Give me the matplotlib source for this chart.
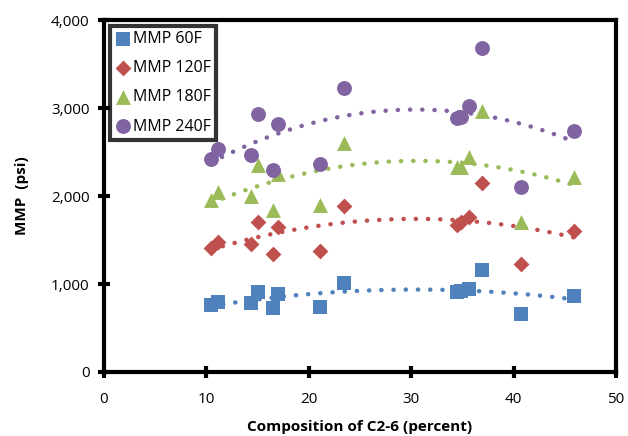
import numpy as np
import matplotlib
matplotlib.use("Agg")
import matplotlib.pyplot as plt
from matplotlib.ticker import FuncFormatter

plt.rcParams['font.family'] = ['Open Sans', 'DejaVu Sans']

comp = [10.45, 11.1, 14.35, 15.0, 16.5, 17.0, 21.1, 23.4, 34.5, 34.9, 35.6, 36.9, 40.7, 45.9]
mmp_60 = [761, 795, 784, 909, 727, 886, 739, 1011, 909, 920, 943, 1159, 659, 864]
mmp_120 = [1409, 1477, 1455, 1705, 1341, 1648, 1375, 1886, 1670, 1705, 1761, 2148, 1227, 1602]
mmp_180 = [1955, 2045, 2000, 2352, 1841, 2250, 1898, 2602, 2330, 2330, 2443, 2966, 1705, 2216]
mmp_240 = [2420, 2534, 2466, 2932, 2295, 2818, 2364, 3227, 2886, 2898, 3023, 3682, 2102, 2739]

series = [
    ("MMP 60F", mmp_60, "s", "#4F81BD", 100),
    ("MMP 120F", mmp_120, "D", "#C0504D", 65),
    ("MMP 180F", mmp_180, "^", "#9BBB59", 115),
    ("MMP 240F", mmp_240, "o", "#8064A2", 115),
]

fig = plt.figure(figsize=(6.28, 4.36), dpi=100)
ax = fig.add_axes([0.1656, 0.1468, 0.8154, 0.8072])

x = np.array(comp)
xs = np.linspace(x.min(), x.max(), 200)
for name, y, m, c, s in series:
    ax.scatter(x, y, marker=m, s=s, color=c, label=name, zorder=3, linewidths=0)
    p = np.polyfit(x, y, 2)
    ax.plot(xs, np.polyval(p, xs), color=c, lw=3.2, linestyle=(0, (0.05, 2.7)),
            dash_capstyle='round', solid_capstyle='round', zorder=2)

ax.set_xlim(0, 50)
ax.set_ylim(0, 4000)
ax.set_xticks(range(0, 51, 10))
ax.set_yticks(range(0, 4001, 1000))
ax.yaxis.set_major_formatter(FuncFormatter(lambda v, _: f"{int(v):,}"))
for sp in ax.spines.values():
    sp.set_linewidth(3)
ax.tick_params(direction='inout', length=9, width=3, labelsize=11, pad=6)
ax.tick_params(axis='x', pad=10)

ax.set_xlabel("Composition of C2-6 (percent)", fontsize=11, fontweight='bold', labelpad=9)
ax.set_ylabel("MMP  (psi)", fontsize=11, fontweight='bold', labelpad=16)

leg = ax.legend(loc='upper left', fontsize=11.5, frameon=True, fancybox=False,
                edgecolor='black', handletextpad=0.1, handlelength=1.0,
                borderpad=0.35, labelspacing=0.82, borderaxespad=0.35)
leg.get_frame().set_linewidth(3)

fig.savefig("out.png", dpi=100)
